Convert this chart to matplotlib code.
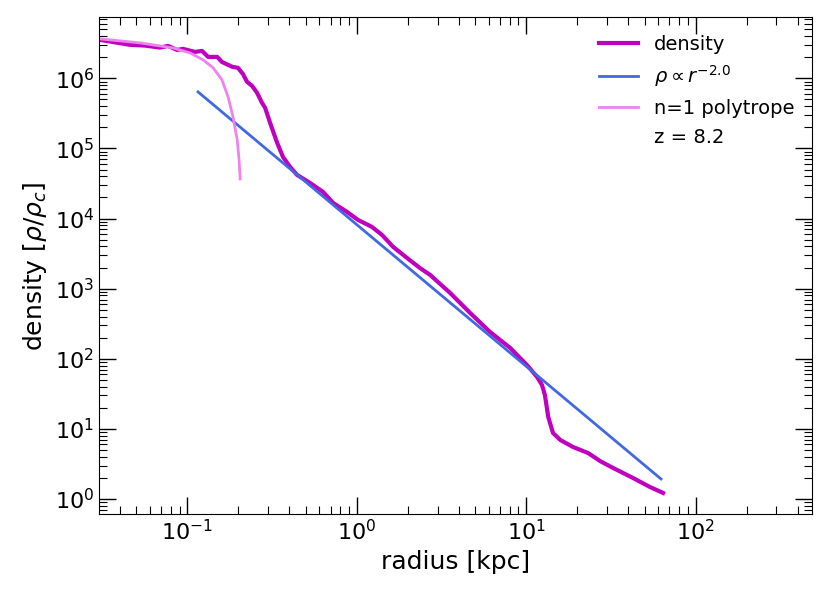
import matplotlib
matplotlib.use("Agg")
import matplotlib.pyplot as plt

# density profile
radius = [0.0305, 0.0459, 0.0562, 0.0690, 0.0769, 0.0869, 0.0942, 0.111, 0.122,
          0.1325, 0.150, 0.160, 0.184, 0.199, 0.213, 0.225, 0.241, 0.258, 0.276,
          0.288, 0.308, 0.339, 0.367, 0.404, 0.444, 0.530, 0.632, 0.725, 0.877,
          1.018, 1.23, 1.41, 1.64, 1.98, 2.36, 2.71, 3.56, 4.67, 6.12, 8.04,
          10.1, 11.6, 12.4, 12.9, 13.5, 14.4, 15.9, 18.9, 23.2, 27.3, 32.6,
          42.8, 53.9, 64.3]
density = [3.53e6, 3.0e6, 2.93e6, 2.74e6, 2.90e6, 2.54e6, 2.63e6, 2.38e6, 2.46e6,
           2.02e6, 2.02e6, 1.71e6, 1.46e6, 1.41e6, 1.15e6, 8.9e5, 7.8e5, 6.2e5, 4.46e5,
           3.78e5, 2.31e5, 1.20e5, 7.56e4, 5.45e4, 4.19e4, 3.22e4, 2.40e4, 1.67e4, 1.24e4,
           9.55e3, 7.59e3, 5.83e3, 3.94e3, 2.74e3, 1.97e3, 1.57e3, 867, 450, 241, 143,
           81.6, 55.0, 42.3, 30.4, 14.8, 8.74, 6.95, 5.52, 4.53, 3.48, 2.77,
           1.99, 1.48, 1.22]

# power-law guide line endpoints
powerlaw_r = [0.1156, 62.5]
powerlaw_rho = [6.4e5, 1.93]

# n=1 polytrope
poly_r = [0.0305, 0.0526, 0.0823, 0.1038, 0.124, 0.142, 0.160, 0.174, 0.186,
          0.197, 0.202, 0.205]
poly_rho = [3.65e6, 3.20e6, 2.71e6, 2.30e6, 1.83e6, 1.41e6, 9.5e5, 5.43e5, 2.81e5,
            1.32e5, 6.85e4, 3.67e4]

redshift_label = "z = 8.2"

fig = plt.figure(figsize=(8.3, 5.93), dpi=100)
ax = fig.add_axes([0.1193, 0.1327, 0.978 - 0.1193, 0.9708 - 0.1327])

ax.plot(radius, density, color="m", lw=3, label="density")
ax.plot(powerlaw_r, powerlaw_rho, color="royalblue", lw=2, label=r"$\rho \propto r^{-2.0}$")
ax.plot(poly_r, poly_rho, color="violet", lw=2, label="n=1 polytrope")
ax.plot([], [], " ", label=redshift_label)

ax.set_xscale("log")
ax.set_yscale("log")
ax.set_xlim(0.0301, 485)
ax.set_ylim(0.605, 7.41e6)

ax.set_xlabel("radius [kpc]", fontsize=18)
ax.set_ylabel(r"density [$\rho/\rho_c$]", fontsize=18)

ax.tick_params(which="both", direction="in", top=True, right=True, labelsize=16)
ax.tick_params(which="major", length=12, width=1)
ax.tick_params(which="minor", length=6, width=0.8)

ax.legend(loc="upper right", frameon=False, fontsize=14)

fig.savefig("out.png", dpi=100)
